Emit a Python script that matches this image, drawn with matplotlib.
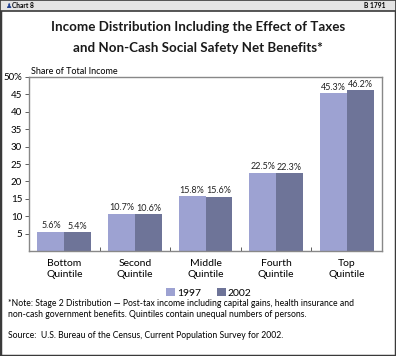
import matplotlib
matplotlib.use("Agg")
import matplotlib.pyplot as plt
import numpy as np
from matplotlib.patches import Rectangle

# Data
quintiles = ["Bottom\nQuintile", "Second\nQuintile", "Middle\nQuintile",
             "Fourth\nQuintile", "Top\nQuintile"]
share_1997 = [5.6, 10.7, 15.8, 22.5, 45.3]
share_2002 = [5.4, 10.6, 15.6, 22.3, 46.2]
years = ["1997", "2002"]
y_ticks = [5, 10, 15, 20, 25, 30, 35, 40, 45, 50]
y_tick_labels = ["5", "10", "15", "20", "25", "30", "35", "40", "45", "50%"]

c1997 = "#9da2d2"
c2002 = "#6e7498"
frame = "#3a3a3a"

plt.rcParams['font.family'] = ['Lato', 'DejaVu Sans']

W, H = 396, 356
fig = plt.figure(figsize=(W / 100, H / 100), dpi=100)

# outer frame and header strip (behind the axes)
fig.patches.append(Rectangle((0, 0), 1, 1, transform=fig.transFigure, zorder=-2,
                             facecolor="white", edgecolor=frame, linewidth=2.5))
fig.patches.append(Rectangle((0, 1 - 11 / H), 1, 11 / H, transform=fig.transFigure, zorder=-1,
                             facecolor="#e4e4e4", edgecolor=frame, linewidth=1.2))
fig.lines.append(plt.Line2D([44 / W, 355 / W], [1 - 5 / H, 1 - 5 / H], zorder=-1,
                            transform=fig.transFigure, color="#b0b0b0", linewidth=0.8))
fig.text(6 / W, 1 - 5.5 / H, "\u265f", fontsize=5, color="#1f3f8f", va="center",
         family=['DejaVu Sans'])
fig.text(12 / W, 1 - 5.5 / H, "Chart 8", fontsize=4.8, weight="bold", va="center")
fig.text(386 / W, 1 - 5.5 / H, "B 1791", fontsize=4.8, weight="bold", va="center", ha="right")

# title
fig.text(0.5, 1 - 27 / H, "Income Distribution Including the Effect of Taxes",
         fontsize=9.6, weight="bold", ha="center", va="center", color="#1a1a1a")
fig.text(0.5, 1 - 48 / H, "and Non-Cash Social Safety Net Benefits*",
         fontsize=9.6, weight="bold", ha="center", va="center", color="#1a1a1a")

# axes
left, right, top, bottom = 29, 382, 77, 251
ax = fig.add_axes([left / W, 1 - bottom / H, (right - left) / W, (bottom - top) / H])

x = np.arange(len(quintiles))
bw = 0.38
b1 = ax.bar(x - bw / 2, share_1997, bw, color=c1997, label=years[0])
b2 = ax.bar(x + bw / 2, share_2002, bw, color=c2002, label=years[1])

for bars, vals in [(b1, share_1997), (b2, share_2002)]:
    for r, v in zip(bars, vals):
        ax.text(r.get_x() + r.get_width() / 2, v + 0.4, f"{v}%",
                ha="center", va="bottom", fontsize=6.5, color="#222222")

ax.set_xlim(-0.5, len(quintiles) - 0.5)
ax.set_ylim(0, 50)
ax.set_yticks(y_ticks)
ax.set_yticklabels(y_tick_labels, fontsize=7)
ax.set_xticks(x)
ax.set_xticklabels(quintiles, fontsize=7.5, linespacing=1.3)
ax.tick_params(axis="x", length=0, pad=6)
ax.tick_params(axis="y", length=3, width=0.6, color="#444444", pad=2)
ax.set_xticks(np.arange(0.5, len(quintiles) - 1, 1), minor=True)
ax.tick_params(axis="x", which="minor", length=3, direction="in", width=0.6, color="#444444")
for s in ax.spines.values():
    s.set_color("#888888")
    s.set_linewidth(1.0)

fig.text(left / W + 0.005, 1 - 71 / H, "Share of Total Income", fontsize=6.5,
         va="center", ha="left")

# legend
fig.legend(handles=[b1, b2], labels=years, loc="center", bbox_to_anchor=(209 / W, 1 - 293 / H),
           ncol=2, frameon=False, fontsize=7.5, handlelength=0.8, handleheight=0.8,
           handletextpad=0.2, columnspacing=1.6)

# notes
fig.text(8 / W, 1 - 309 / H,
         "*Note: Stage 2 Distribution \u2014 Post-tax income including capital gains, health insurance and\n"
         "non-cash government benefits. Quintiles contain unequal numbers of persons.",
         fontsize=6.2, va="center", ha="left", linespacing=1.35)
fig.text(8 / W, 1 - 336 / H,
         "Source:  U.S. Bureau of the Census, Current Population Survey for 2002.",
         fontsize=6.2, va="center", ha="left")

fig.savefig("out.png", dpi=100)
